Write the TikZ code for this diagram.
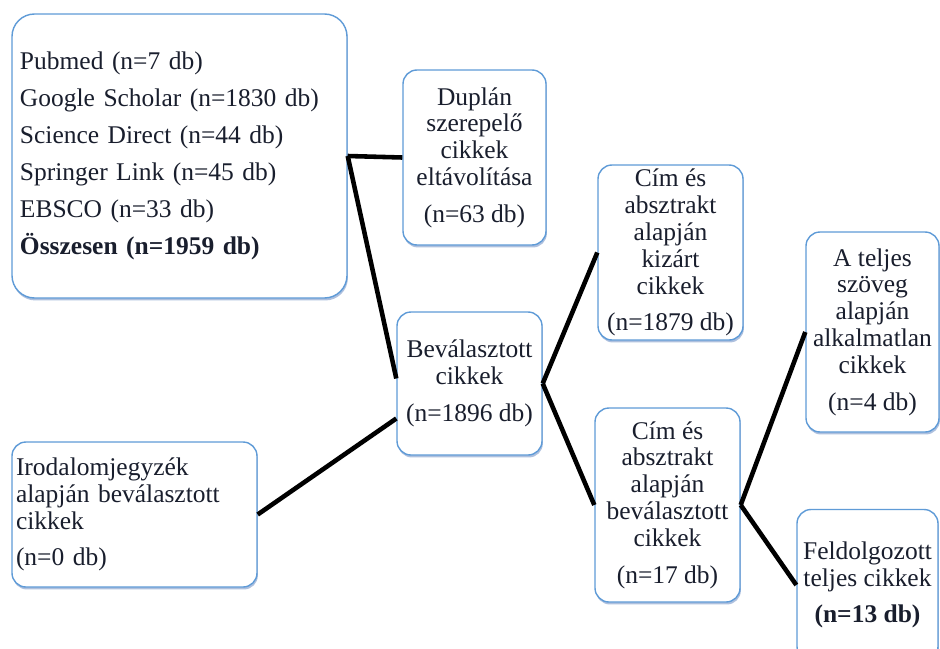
\documentclass[tikz,border=0pt]{standalone}
\usepackage{fontspec}
\setmainfont{Liberation Serif}
\usepackage{xcolor}
\usepackage{tikz}
\usetikzlibrary{shadows}
\definecolor{edgeblue}{RGB}{95,155,215}
\definecolor{shadeblue}{RGB}{120,150,200}
\definecolor{inkdark}{RGB}{25,30,45}
\tikzset{
  bx/.style={draw=edgeblue, line width=0.8pt, fill=white, rounded corners=0.28cm,
    text=inkdark, font=\fontsize{14.5}{15.3}\selectfont, align=center,
    inner xsep=2pt, inner ysep=1pt,
    drop shadow={shadow xshift=0.5pt, shadow yshift=-1.4pt, fill=shadeblue, opacity=0.6}},
  leftbx/.style={bx, align=left, rounded corners=0.45cm},
  lnk/.style={line width=2.6pt, draw=black},
}

\begin{document}
\begin{tikzpicture}
      \useasboundingbox (0,0) rectangle (18.8,-12.96);
      \clip (0,0) rectangle (18.8,-12.96);
      % the sources and the first step
      \node[leftbx, text width=6.38cm, inner xsep=0.16cm, minimum height=5.68cm,
        font=\fontsize{14.5}{21}\selectfont] (src) at (3.59,-3.12)
        {Pubmed (n=7 db)\\Google Scholar (n=1830 db)\\Science Direct (n=44 db)\\
         Springer Link (n=45 db)\\EBSCO (n=33 db)\\\textbf{Összesen (n=1959 db)}};
      \node[bx, minimum width=2.86cm, minimum height=3.5cm] (dup) at (9.49,-3.15)
        {Duplán\\szerepelő\\cikkek\\eltávolítása\\[5.5pt](n=63 db)};
      \node[bx, minimum width=2.9cm, minimum height=2.86cm] (bev) at (9.39,-7.67)
        {Beválasztott\\cikkek\\[5.5pt](n=1896 db)};
      \node[leftbx, rounded corners=0.28cm, text width=4.74cm, inner xsep=0.08cm,
        minimum height=2.9cm] (irod) at (2.69,-10.29)
        {Irodalomjegyzék\\alapján beválasztott\\cikkek\\[5.5pt](n=0 db)};
      % title and abstract screening
      \node[bx, minimum width=2.9cm, minimum height=3.5cm] (kiz) at (13.41,-5.05)
        {Cím és\\absztrakt\\alapján\\kizárt\\cikkek\\[5.5pt](n=1879 db)};
      \node[bx, minimum width=2.9cm, minimum height=3.88cm] (bevcim) at (13.35,-10.1)
        {Cím és\\absztrakt\\alapján\\beválasztott\\cikkek\\[5.5pt](n=17 db)};
      % full text screening
      \node[bx, minimum width=2.66cm, minimum height=4cm] (alk) at (17.45,-6.64)
        {A teljes\\szöveg\\alapján\\alkalmatlan\\cikkek\\[5.5pt](n=4 db)};
      \node[bx, minimum width=2.82cm, minimum height=3.02cm] (feld) at (17.35,-11.7)
        {Feldolgozott\\teljes cikkek\\[5.5pt]\textbf{(n=13 db)}};

      \draw[lnk] (src.east) -- (dup.west);
      \draw[lnk] (src.east) -- ([yshift=1mm]bev.west);
      \draw[lnk] (irod.east) -- ([yshift=-0.7cm]bev.west);
      \draw[lnk] (bev.east) -- (kiz.west);
      \draw[lnk] (bev.east) -- (bevcim.west);
      \draw[lnk] (bevcim.east) -- (alk.west);
      \draw[lnk] (bevcim.east) -- (feld.west);
    \end{tikzpicture}
\end{document}
